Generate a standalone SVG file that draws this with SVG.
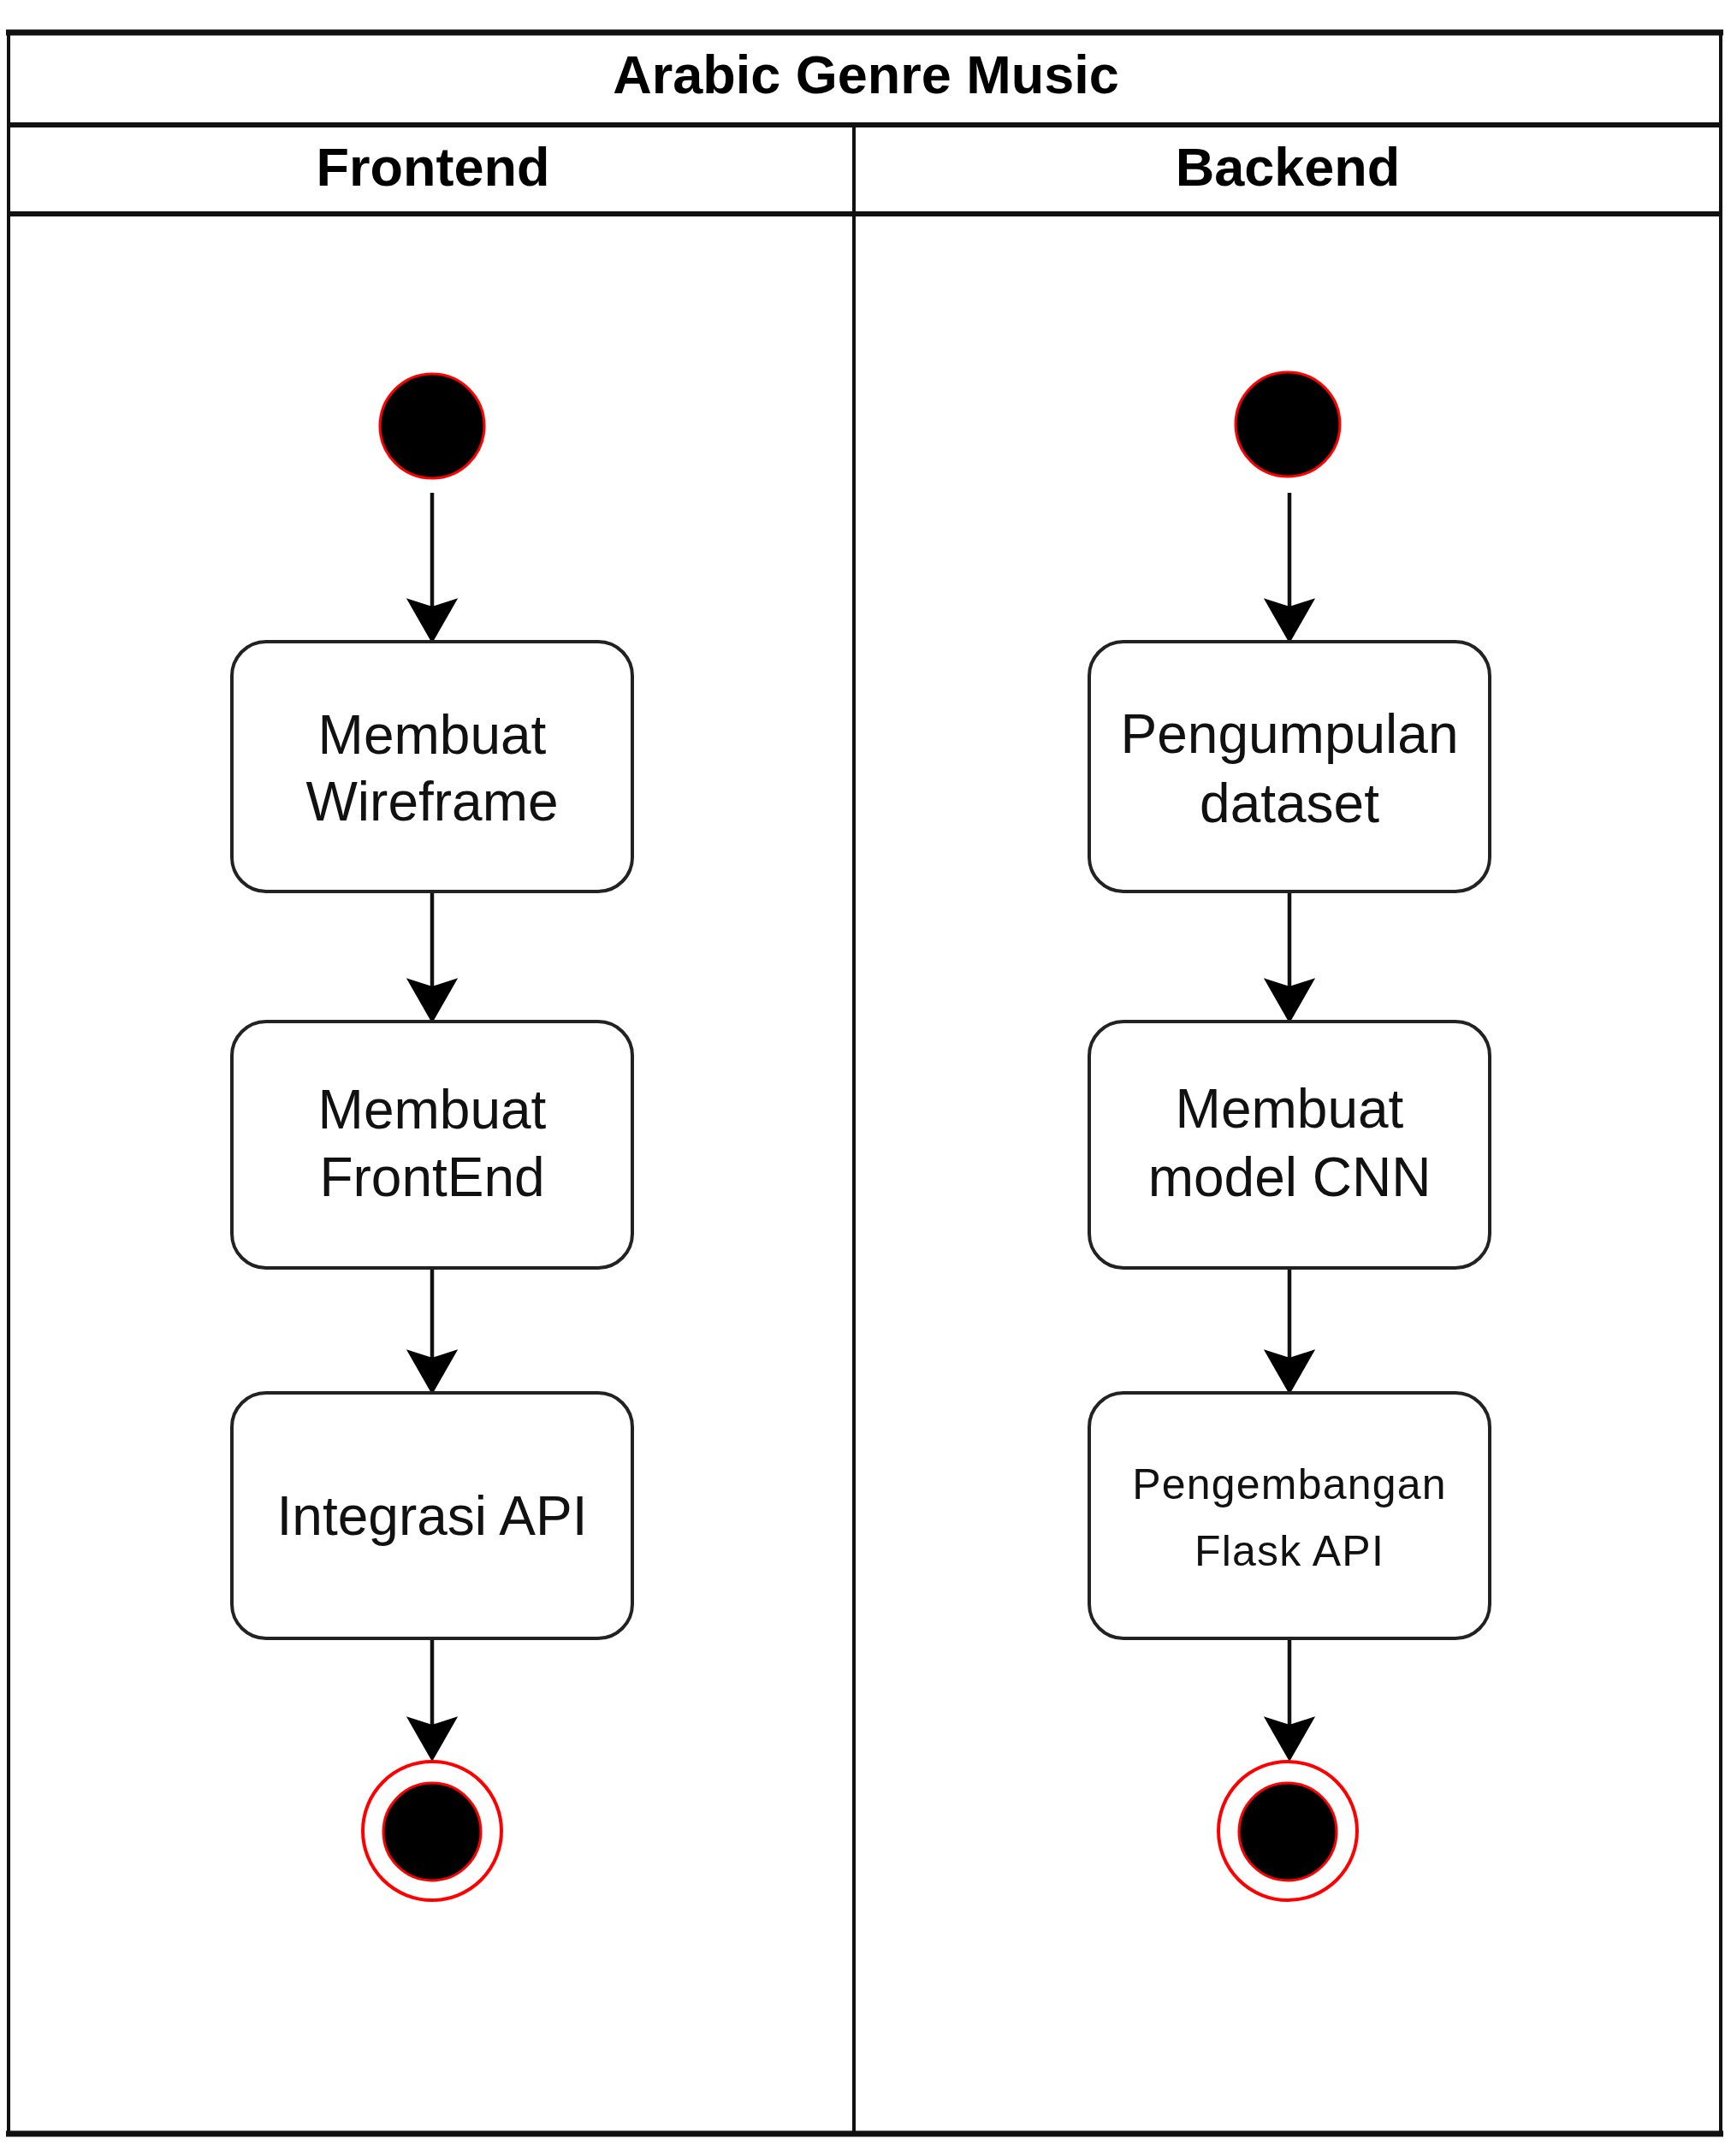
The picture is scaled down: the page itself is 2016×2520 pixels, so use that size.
<svg xmlns="http://www.w3.org/2000/svg" width="2016" height="2520" viewBox="0 0 2016 2520">
  <defs>
    <marker id="arrow" markerUnits="userSpaceOnUse" markerWidth="60" markerHeight="62" viewBox="-54 -31 60 62" refX="-12" refY="0" orient="auto">
      <path d="M -49 -28 L -40 0 L -49 28 L 0 0 Z" fill="#000" stroke="#000" stroke-width="2" stroke-linejoin="miter"/>
    </marker>
  </defs>
  <style>
    .pool { fill: none; stroke: #111; }
    .hdr { font-family: "Liberation Sans", Arial, sans-serif; font-weight: bold; font-size: 63px; fill: #000; text-anchor: middle; }
    .act rect { fill: #fff; stroke: #222; stroke-width: 4; }
    .lbl { font-family: "Liberation Sans", Arial, sans-serif; font-size: 64px; fill: #111; text-anchor: middle; }
    .lbl-sm { font-family: "Liberation Sans", Arial, sans-serif; font-size: 50px; letter-spacing: 1.2px; fill: #111; text-anchor: middle; }
    .start { fill: #000; stroke: #ff0000; stroke-width: 3; }
    .endo { fill: #fff; stroke: #ff0000; stroke-width: 4; }
    .endi { fill: #000; stroke: #ff0000; stroke-width: 3; }
    .edge { stroke: #111; stroke-width: 4.5; fill: none; marker-end: url(#arrow); }
  </style>
  <rect x="0" y="0" width="2016" height="2520" fill="#fff"/>

  <g id="pool">
    <rect x="10" y="38" width="2001" height="2456" fill="#fff" stroke="none"/>
    <line class="pool" x1="7" y1="38" x2="2014" y2="38" stroke-width="7"/>
    <line class="pool" x1="7" y1="2494" x2="2014" y2="2494" stroke-width="7"/>
    <line class="pool" x1="10" y1="38" x2="10" y2="2494" stroke-width="4"/>
    <line class="pool" x1="2011" y1="38" x2="2011" y2="2494" stroke-width="4"/>
    <line class="pool" x1="10" y1="146" x2="2011" y2="146" stroke-width="6"/>
    <line class="pool" x1="10" y1="250" x2="2011" y2="250" stroke-width="6"/>
    <line class="pool" x1="998" y1="146" x2="998" y2="2494" stroke-width="4"/>
    <text class="hdr" x="1012" y="109">Arabic Genre Music</text>
  </g>
  <g id="lane-frontend">
    <text class="hdr" x="506" y="217">Frontend</text>
  </g>
  <g id="lane-backend">
    <text class="hdr" x="1505" y="217">Backend</text>
  </g>

  <g id="connectors">
    <line class="edge" x1="505" y1="576" x2="505" y2="738"/>
    <line class="edge" x1="505" y1="1042" x2="505" y2="1182"/>
    <line class="edge" x1="505" y1="1482" x2="505" y2="1616"/>
    <line class="edge" x1="505" y1="1915" x2="505" y2="2045"/>
    <line class="edge" x1="1507" y1="576" x2="1507" y2="738"/>
    <line class="edge" x1="1507" y1="1042" x2="1507" y2="1182"/>
    <line class="edge" x1="1507" y1="1482" x2="1507" y2="1616"/>
    <line class="edge" x1="1507" y1="1915" x2="1507" y2="2045"/>
  </g>

  <g id="fe-start">
    <circle class="start" cx="505" cy="498" r="61"/>
  </g>
  <g id="fe-wireframe" class="act">
    <rect x="271" y="750" width="468" height="292" rx="40" ry="40"/>
    <text class="lbl" x="505" y="881">Membuat</text>
    <text class="lbl" x="505" y="959">Wireframe</text>
  </g>
  <g id="fe-frontend" class="act">
    <rect x="271" y="1194" width="468" height="288" rx="40" ry="40"/>
    <text class="lbl" x="505" y="1319">Membuat</text>
    <text class="lbl" x="505" y="1398">FrontEnd</text>
  </g>
  <g id="fe-integrasi" class="act">
    <rect x="271" y="1628" width="468" height="287" rx="40" ry="40"/>
    <text class="lbl" x="505" y="1794">Integrasi API</text>
  </g>
  <g id="fe-end">
    <circle class="endo" cx="505" cy="2140" r="81"/>
    <circle class="endi" cx="505" cy="2141" r="57"/>
  </g>

  <g id="be-start">
    <circle class="start" cx="1505" cy="496" r="61"/>
  </g>
  <g id="be-dataset" class="act">
    <rect x="1273" y="750" width="468" height="292" rx="40" ry="40"/>
    <text class="lbl" x="1507" y="880">Pengumpulan</text>
    <text class="lbl" x="1507" y="961">dataset</text>
  </g>
  <g id="be-cnn" class="act">
    <rect x="1273" y="1194" width="468" height="288" rx="40" ry="40"/>
    <text class="lbl" x="1507" y="1318">Membuat</text>
    <text class="lbl" x="1507" y="1398">model CNN</text>
  </g>
  <g id="be-flask" class="act">
    <rect x="1273" y="1628" width="468" height="287" rx="40" ry="40"/>
    <text class="lbl-sm" x="1507" y="1752">Pengembangan</text>
    <text class="lbl-sm" x="1507" y="1830">Flask API</text>
  </g>
  <g id="be-end">
    <circle class="endo" cx="1505" cy="2140" r="81"/>
    <circle class="endi" cx="1505" cy="2141" r="57"/>
  </g>
</svg>
